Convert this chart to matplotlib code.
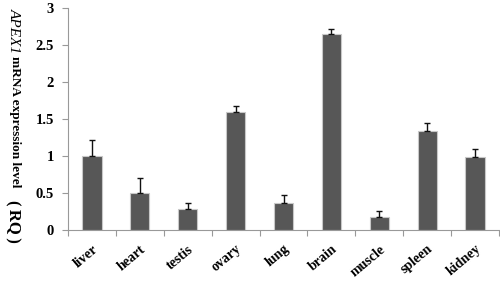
import matplotlib
matplotlib.use("Agg")
import matplotlib.pyplot as plt
import matplotlib.transforms as mtransforms
import numpy as np

categories = ["liver", "heart", "testis", "ovary", "lung", "brain", "muscle", "spleen", "kidney"]
values = [1.00, 0.50, 0.29, 1.59, 0.37, 2.65, 0.18, 1.34, 0.98]
errors = [0.22, 0.20, 0.08, 0.09, 0.10, 0.07, 0.08, 0.11, 0.11]
yticks = [0, 0.5, 1, 1.5, 2, 2.5, 3]
ytick_labels = ["0", "0.5", "1", "1.5", "2", "2.5", "3"]

plt.rcParams['font.family'] = ['Liberation Serif', 'Noto Sans CJK SC', 'DejaVu Sans']

W, H = 500, 281
fig = plt.figure(figsize=(5, 2.81), dpi=100)
ax = fig.add_axes([0.136, 0.1815, 0.862, 0.79])

x = np.arange(len(categories))
ax.bar(x, values, width=0.4, color='#575757', edgecolor='#c8c8c8', linewidth=0.8, zorder=2)
ax.errorbar(x, values, yerr=[np.zeros(len(errors)), errors], fmt='none',
            ecolor='#111111', elinewidth=1.0, capsize=2.2, capthick=1.0, zorder=3)

ax.set_xlim(-0.5, len(categories) - 0.5)
ax.set_ylim(0, 3)
ax.set_yticks(yticks)
ax.set_yticklabels(ytick_labels, fontsize=10.5, fontweight='bold')
ax.set_xticks(x)
ax.set_xticklabels(categories, rotation=40, ha='right', rotation_mode='anchor',
                   fontsize=10, fontweight='bold')
offset = mtransforms.ScaledTranslation(-5 / 100, 0, fig.dpi_scale_trans)
for lbl in ax.xaxis.get_majorticklabels():
    lbl.set_transform(lbl.get_transform() + offset)
ax.set_xticks(np.arange(-0.5, len(categories)), minor=True)
ax.tick_params(axis='x', which='major', length=0, pad=9)
ax.tick_params(axis='x', which='minor', length=4.3, color='#999999', width=0.8)
ax.tick_params(axis='y', length=4.3, color='#999999', width=0.8, pad=6)

for s in ['top', 'right']:
    ax.spines[s].set_visible(False)
for s in ['left', 'bottom']:
    ax.spines[s].set_color('#999999')
    ax.spines[s].set_linewidth(0.8)

# y-axis label built from three rotated pieces
xl = 14.5 / W
renderer = fig.canvas.get_renderer()
t1 = fig.text(xl, 1 - 8 / H, "APEX1", rotation=270, ha='center', va='top',
              fontsize=11, fontstyle='italic')
b1 = t1.get_window_extent(renderer)
t2 = fig.text(xl, (b1.y0 - 3) / H, "mRNA expression level", rotation=270,
              ha='center', va='top', fontsize=9.5, fontweight='bold')
b2 = t2.get_window_extent(renderer)
t3 = fig.text(13 / W, (b2.y0 - 13) / H, "(\u2009RQ\u2009)", rotation=270,
              ha='center', va='top', fontsize=12, fontweight='bold')

fig.savefig("out.png", dpi=100)
